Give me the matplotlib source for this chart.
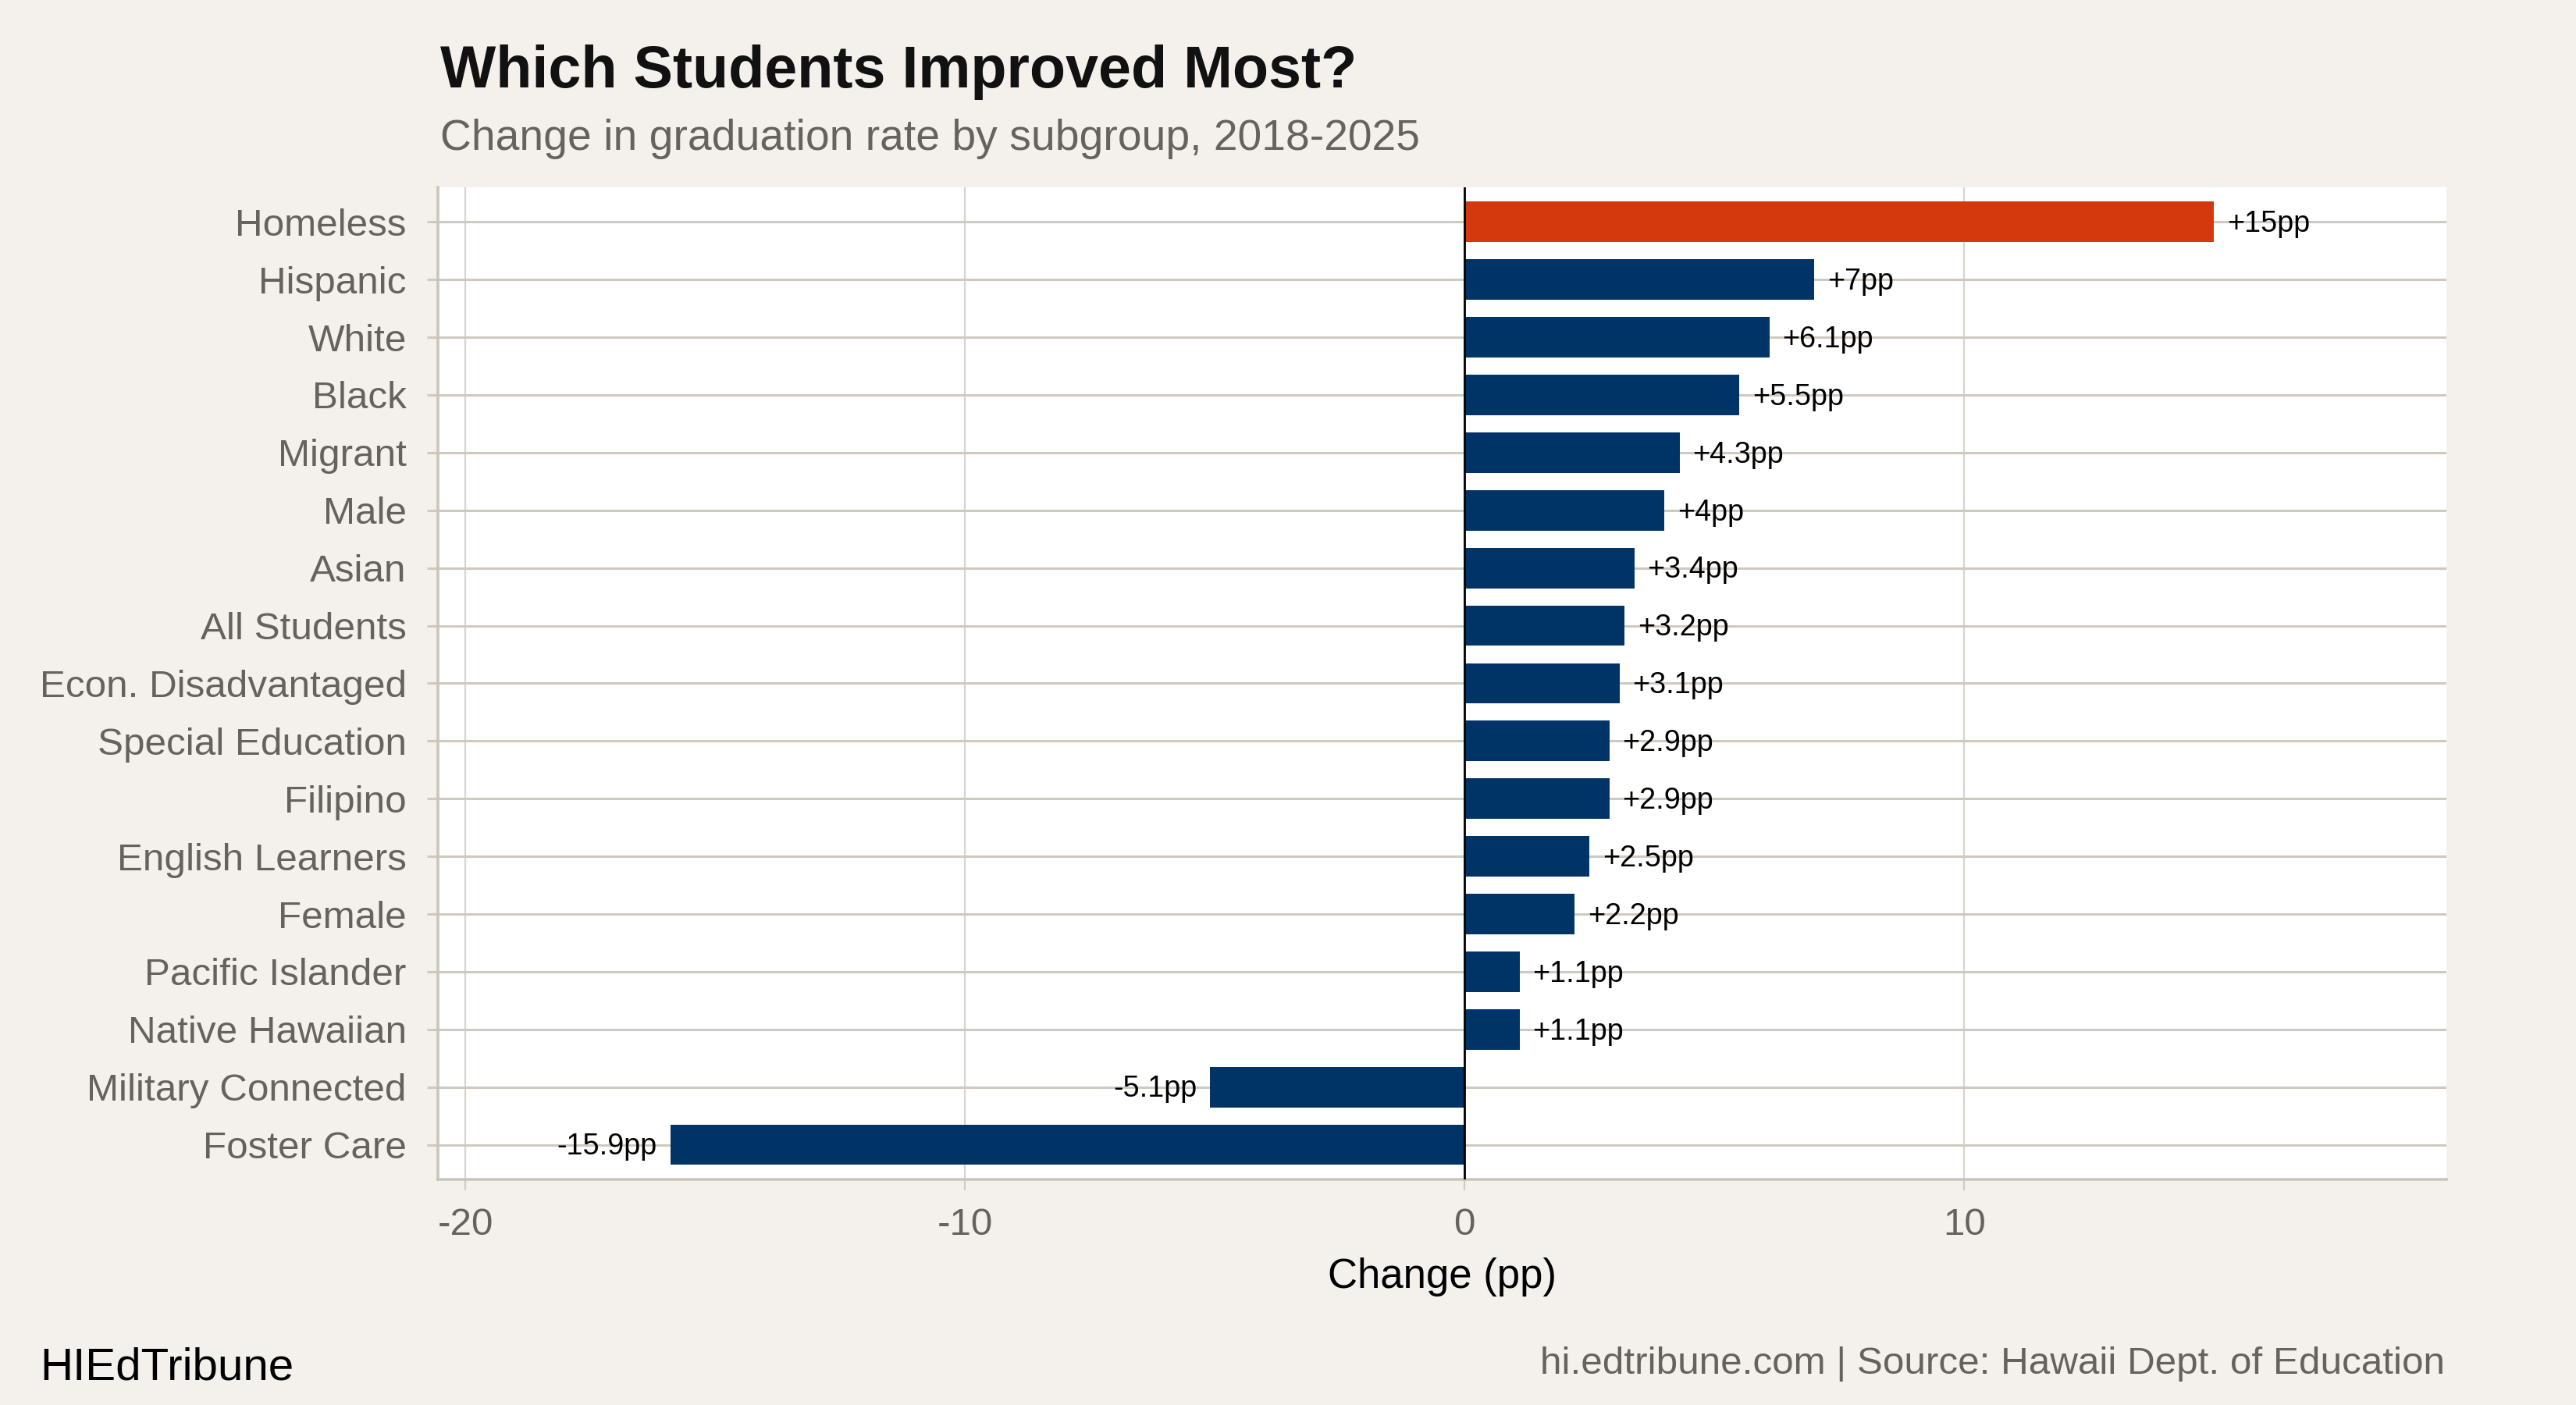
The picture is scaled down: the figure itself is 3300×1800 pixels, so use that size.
import numpy as np
import matplotlib.pyplot as plt

plt.rcParams['font.family'] = ['Liberation Sans', 'DejaVu Sans']

# Daten (von oben nach unten)
groups = ["Homeless", "Hispanic", "White", "Black", "Migrant", "Male", "Asian",
          "All Students", "Econ. Disadvantaged", "Special Education", "Filipino",
          "English Learners", "Female", "Pacific Islander", "Native Hawaiian",
          "Military Connected", "Foster Care"]
change = [15, 7, 6.1, 5.5, 4.3, 4, 3.4, 3.2, 3.1, 2.9, 2.9, 2.5, 2.2, 1.1, 1.1, -5.1, -15.9]
labels = ["+15pp", "+7pp", "+6.1pp", "+5.5pp", "+4.3pp", "+4pp", "+3.4pp", "+3.2pp",
          "+3.1pp", "+2.9pp", "+2.9pp", "+2.5pp", "+2.2pp", "+1.1pp", "+1.1pp",
          "-5.1pp", "-15.9pp"]
xticks = [-20, -10, 0, 10]

bg = "#f4f1ec"
navy = "#003366"
orange = "#d4390e"
grid_col = "#cfc9c0"
grey_txt = "#66625d"

fig = plt.figure(figsize=(16.5, 9), dpi=200, facecolor=bg)
ax = fig.add_axes([0.170, 0.1606, 0.7797, 0.7061])
ax.set_facecolor("white")

ys = np.arange(len(groups))[::-1]
colors = [orange if g == "Homeless" else navy for g in groups]

ax.barh(ys, change, height=0.7, color=colors, zorder=3)
ax.axvline(0, color="black", lw=1.0, zorder=4)

for y, v, lab in zip(ys, change, labels):
    if v >= 0:
        ax.annotate(lab, (v, y), xytext=(6, -1), textcoords="offset points",
                    ha="left", va="center", fontsize=13.6, color="black", zorder=5)
    else:
        ax.annotate(lab, (v, y), xytext=(-6, -1), textcoords="offset points",
                    ha="right", va="center", fontsize=13.6, color="black", zorder=5)

ax.set_xlim(-20.55, 19.65)
ax.set_ylim(-0.6, len(groups) - 0.4)
ax.set_xticks(xticks)
ax.set_xticklabels([str(t) for t in xticks])
ax.set_yticks(ys)
ax.set_yticklabels(groups)

ax.grid(axis="y", color=grid_col, lw=1.1, zorder=1)
ax.grid(axis="x", color="#d8d3cc", lw=0.8, zorder=1)

for s in ["top", "right"]:
    ax.spines[s].set_visible(False)
for s in ["left", "bottom"]:
    ax.spines[s].set_color("#cbc5bc")
    ax.spines[s].set_linewidth(1.3)

ax.tick_params(axis="y", length=5, width=1.1, color=grid_col, pad=9.5,
               labelsize=17.8, labelcolor=grey_txt)
ax.tick_params(axis="x", length=5, width=0.8, color="#d0cbc3", pad=8,
               labelsize=17.8, labelcolor=grey_txt)

# Titel und Beschriftungen
fig.text(0.1709, 0.9378, "Which Students Improved Most?", fontsize=27.2,
         fontweight="bold", color="#111111", va="baseline", ha="left")
fig.text(0.1709, 0.8933, "Change in graduation rate by subgroup, 2018-2025",
         fontsize=19.9, color=grey_txt, va="baseline", ha="left")
fig.text(0.5597, 0.0833, "Change (pp)", fontsize=19, color="black",
         va="baseline", ha="center")
fig.text(0.0155, 0.0183, "HIEdTribune", fontsize=21, color="black",
         va="baseline", ha="left")
fig.text(0.949, 0.0222, "hi.edtribune.com | Source: Hawaii Dept. of Education",
         fontsize=17.8, color=grey_txt, va="baseline", ha="right")

fig.savefig("out.png", dpi=200, facecolor=bg)
